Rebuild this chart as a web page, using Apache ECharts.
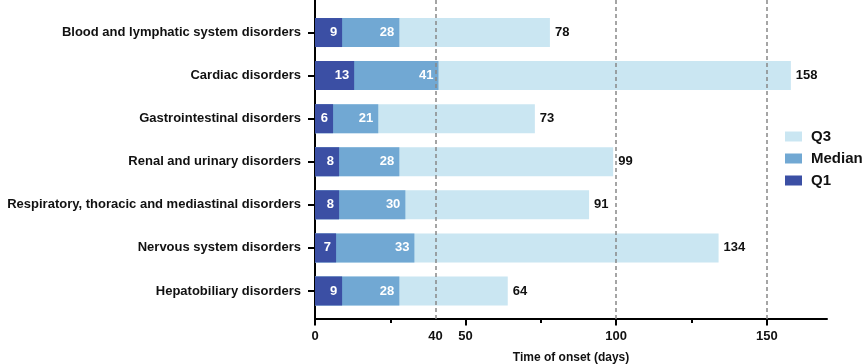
<!DOCTYPE html>
<html>
<head>
<meta charset="utf-8">
<script src="https://cdn.jsdelivr.net/npm/echarts@6/dist/echarts.min.js"></script>
<style>
html,body{margin:0;padding:0;background:#fff;}
#chart{width:865px;height:364px;}
</style>
</head>
<body>
<div id="chart"></div>
<script>
const categories = [
  "Blood and lymphatic system disorders",
  "Cardiac disorders",
  "Gastrointestinal disorders",
  "Renal and urinary disorders",
  "Respiratory, thoracic and mediastinal disorders",
  "Nervous system disorders",
  "Hepatobiliary disorders"
];
const q1Values = [9, 13, 6, 8, 8, 7, 9];
const medianValues = [28, 41, 21, 28, 30, 33, 28];
const q3Values = [78, 158, 73, 99, 91, 134, 64];
const xTickLabels = [0, 40, 50, 100, 150];
const xMajorTicks = [0, 50, 100, 150];
const xMinorTicks = [25, 75, 125];
const referenceLines = [40, 100, 150];
const xMax = 170;

const FONT = '"Liberation Sans", Arial, sans-serif';
const chart = echarts.init(document.getElementById('chart'), null, {renderer: 'canvas'});

const option = {
  animation: false,
  backgroundColor: '#fff',
  textStyle: {fontFamily: FONT},
  grid: [
    {left: 315, right: 38, top: 0, bottom: 45, containLabel: false, outerBoundsMode: 'none'},
    {left: 315, right: 38, top: 11, bottom: 51.5, containLabel: false, outerBoundsMode: 'none'}
  ],
  legend: {
    orient: 'vertical',
    left: 780, top: 124,
    itemWidth: 17, itemHeight: 10, itemGap: 7,
    data: ['Q3', 'Median', 'Q1'],
    textStyle: {fontFamily: FONT, fontWeight: 'bold', fontSize: 15, color: '#111', padding: [0,0,0,4]},
    icon: 'rect'
  },
  xAxis: [
    {
      type: 'value', gridIndex: 0, min: 0, max: xMax, interval: 50, position: 'bottom',
      axisLine: {show: true, lineStyle: {color: '#000', width: 2}},
      axisTick: {show: true, customValues: xMajorTicks, length: 6.5, lineStyle: {color: '#000', width: 2}},
      axisLabel: {customValues: xTickLabels, color: '#111', fontWeight: 'bold', fontSize: 13, margin: 11, fontFamily: FONT},
      splitLine: {show: false},
      name: 'Time of onset (days)', nameLocation: 'middle', nameGap: 33,
      nameTextStyle: {fontWeight: 'bold', fontSize: 12, color: '#111', fontFamily: FONT}
    },
    {
      type: 'value', gridIndex: 1, min: 0, max: xMax, interval: 50, position: 'bottom', offset: 6.5,
      axisLine: {show: false},
      axisTick: {show: true, customValues: xMinorTicks, length: 4, lineStyle: {color: '#000', width: 2}},
      axisLabel: {show: false},
      splitLine: {show: false}
    }
  ],
  yAxis: [
    {
      type: 'value', gridIndex: 0, min: 0, max: 1,
      axisLine: {show: true, lineStyle: {color: '#000', width: 2}},
      axisTick: {show: false}, axisLabel: {show: false}, splitLine: {show: false}
    },
    {
      type: 'category', gridIndex: 1, data: categories, inverse: true,
      axisLine: {show: false},
      axisTick: {show: true, alignWithLabel: true, length: 7, lineStyle: {color: '#000', width: 2}},
      axisLabel: {color: '#111', fontWeight: 'bold', fontSize: 13, margin: 14, fontFamily: FONT},
      splitLine: {show: false}
    }
  ],
  series: [
    {
      type: 'line', xAxisIndex: 0, yAxisIndex: 0, data: [], silent: true,
      markLine: {
        silent: true, symbol: 'none', z: 10,
        label: {show: false},
        lineStyle: {type: [4, 3], color: '#888', width: 1.5},
        data: referenceLines.map(v => ({xAxis: v}))
      }
    },
    {
      name: 'Q3', type: 'bar', xAxisIndex: 1, yAxisIndex: 1, data: q3Values,
      barWidth: 29, barGap: '-100%',
      itemStyle: {color: '#cae6f2'},
      label: {show: true, position: 'right', distance: 5, color: '#111', fontWeight: 'bold', fontSize: 13, fontFamily: FONT}
    },
    {
      name: 'Median', type: 'bar', xAxisIndex: 1, yAxisIndex: 1, data: medianValues,
      barWidth: 29, barGap: '-100%',
      itemStyle: {color: '#71a8d3'},
      label: {show: true, position: 'insideRight', distance: 5, color: '#fff', fontWeight: 'bold', fontSize: 13, fontFamily: FONT}
    },
    {
      name: 'Q1', type: 'bar', xAxisIndex: 1, yAxisIndex: 1, data: q1Values,
      barWidth: 29, barGap: '-100%',
      itemStyle: {color: '#3b4fa4'},
      label: {show: true, position: 'insideRight', distance: 5, color: '#fff', fontWeight: 'bold', fontSize: 13, fontFamily: FONT}
    }
  ]
};
chart.setOption(option);
</script>
</body>
</html>
